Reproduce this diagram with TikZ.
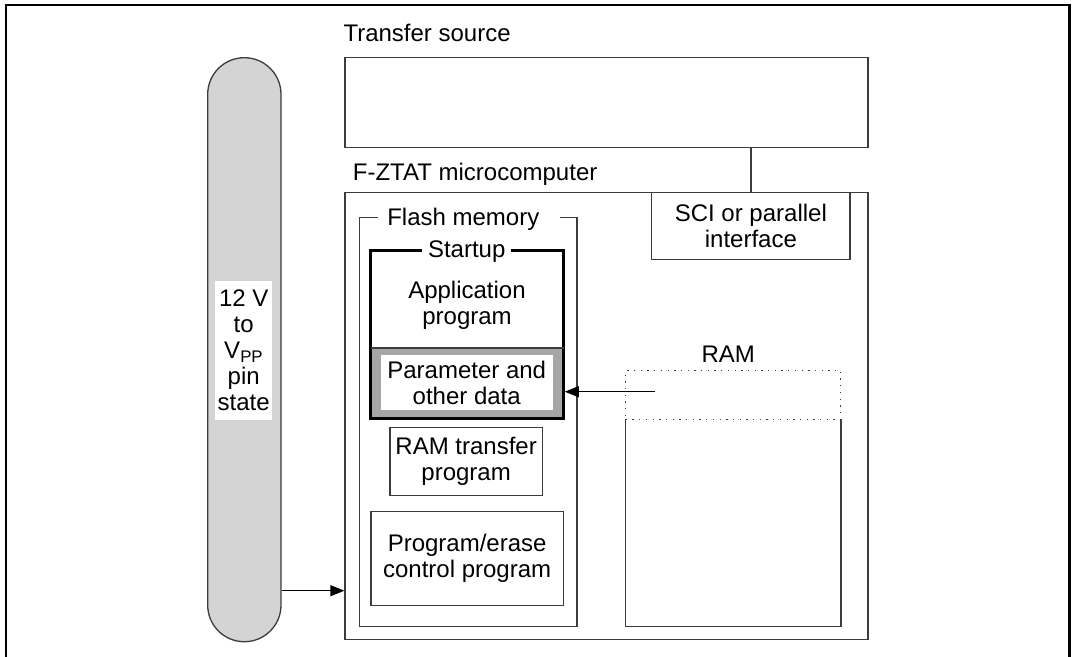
\documentclass[tikz,border=0pt]{standalone}
\usepackage{fontspec}
\setmainfont{Liberation Sans}
\usetikzlibrary{arrows.meta}
\definecolor{ln}{HTML}{3C3C3C}
\definecolor{pillgray}{HTML}{D4D4D4}
\definecolor{bandgray}{HTML}{A6A6A6}
\begin{document}
\begin{tikzpicture}[x=1pt,y=-1pt,
  font=\fontsize{24}{26}\selectfont,
  every node/.style={inner sep=0pt, align=center},
  box/.style={draw=ln, line width=1.3pt, fill=white},
  thinline/.style={draw=ln, line width=1.3pt},
  arr/.style={draw=black, line width=1.3pt, -{Triangle[length=14pt,width=11pt]}},
  frameline/.style={draw=black, line width=2.2pt},
  dotbox/.style={draw=ln, line width=1.3pt, dash pattern=on 1.3pt off 5.4pt},
  startbox/.style={draw=black, line width=3pt},
]
\useasboundingbox (0,0) rectangle (1075,656);
\draw[frameline] (6,662) -- (6,5) -- (1069.5,5) -- (1069.5,662);

% Vpp pill
\node[draw=ln, line width=1.3pt, fill=pillgray, rounded corners=36.6pt,
      minimum width=73.3pt, minimum height=584pt] (vpp) at (244.35,349.7) {};
\node[fill=white, minimum width=57.3pt, minimum height=139pt] (vpplbl) at (243.7,350.5)
  {12 V\\to\\V\textsubscript{PP}\\pin\\state};

% transfer source
\node[box, minimum width=523pt, minimum height=90pt] (src) at (606.5,102.7) {};
\node[anchor=base west] (srclbl) at (343.3,41.7) {Transfer source};

% microcomputer
\node[box, minimum width=523pt, minimum height=446.8pt] (mcu) at (606.5,415.9) {};
\node[anchor=base west] (mculbl) at (352.7,180) {F-ZTAT microcomputer};

\node[box, minimum width=198.3pt, minimum height=67pt] (sci) at (750.85,225.8) {SCI or parallel\\interface};
\draw[thinline] (sci.north) -- (sci.north |- src.south);

% flash memory
\node[minimum width=216.7pt, minimum height=408.3pt] (flash) at (468.35,421.85) {};
\draw[thinline] ([xshift=18pt]flash.north west) -- (flash.north west) -- (flash.south west)
  -- (flash.south east) -- (flash.north east) -- ([xshift=-16.7pt]flash.north east);
\node[anchor=base] (flashlbl) at (463.3,225.7) {Flash memory};

% startup
\node[fill=bandgray, minimum width=192.6pt, minimum height=70pt] (band) at (467,383.3) {};
\node[fill=white, minimum width=172pt, minimum height=55pt] (param) at (466.7,382.5) {Parameter and\\other data};
\node[startbox, minimum width=192.6pt, minimum height=167.6pt] (startup) at (467,334.5) {};
\draw[thinline] (band.north west) -- (band.north east);
\node[anchor=base, fill=white, inner xsep=6pt, inner ysep=2pt] (startlbl) at (466.7,257.5) {Startup};
\node (app) at (467,305) {Application\\program};

\node[box, minimum width=152.3pt, minimum height=68.4pt] (ramtr) at (466.15,461.5) {RAM transfer\\program};
\node[box, minimum width=192.3pt, minimum height=94pt] (pe) at (467.15,558.7) {Program/erase\\control program};

% RAM
\node[anchor=base] (ramlbl) at (728.3,362.7) {RAM};
\node[dotbox, minimum width=215pt, minimum height=48.6pt] (ramtop) at (733.2,395) {};
\node[minimum width=215pt, minimum height=206.7pt] (ram) at (733.2,522.65) {};
\draw[thinline] (ram.north west) -- (ram.south west) -- (ram.south east) -- (ram.north east);

% arrows
\coordinate (rs) at (655,391.7);
\draw[arr] (rs) -- (rs -| startup.east);
\coordinate (vs) at (vpp.east |- 0,590.7);
\draw[arr] (vs) -- (vs -| mcu.west);
\end{tikzpicture}
\end{document}
